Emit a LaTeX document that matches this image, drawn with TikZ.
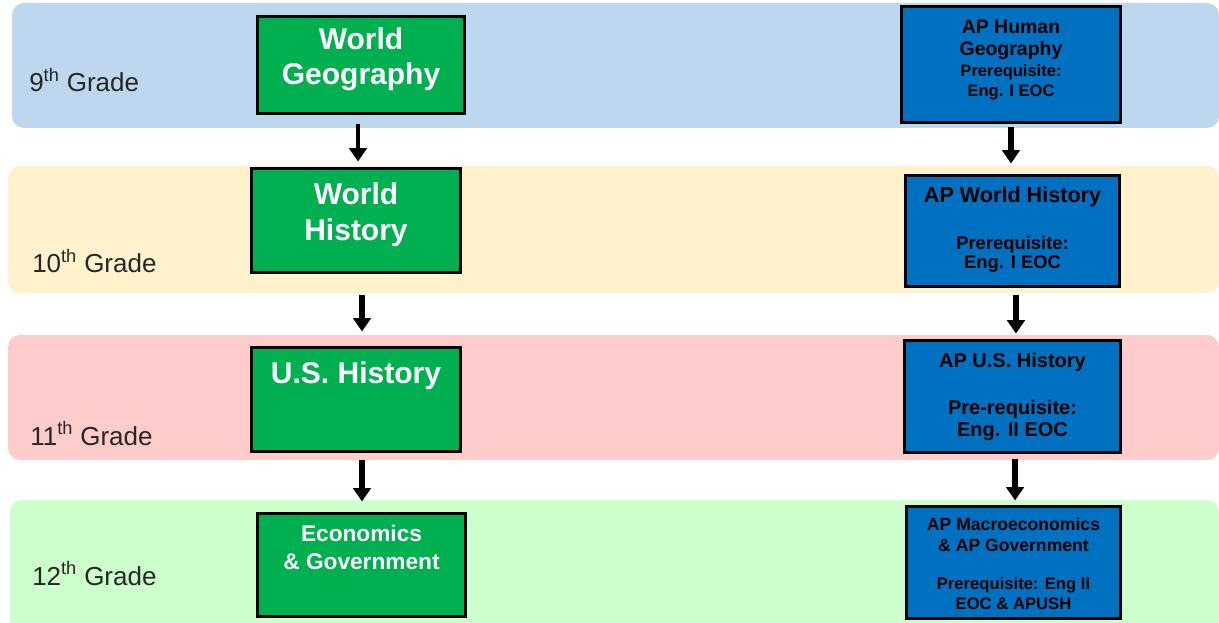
\documentclass[tikz,border=0pt]{standalone}
\usepackage{fontspec}
\setmainfont{Liberation Sans}
\usetikzlibrary{arrows.meta}

\definecolor{band9}{HTML}{BDD7EE}
\definecolor{band10}{HTML}{FFF2CC}
\definecolor{band11}{HTML}{FFCCCC}
\definecolor{band12}{HTML}{CCFFCC}
\definecolor{regfill}{HTML}{00B050}
\definecolor{apfill}{HTML}{0070C0}
\definecolor{gradetext}{HTML}{262626}

% text block of fixed size, written from the top
\newcommand{\coursetext}[3]{\parbox[c][#2][t]{#1}{\centering #3}}

\tikzset{
  regbox/.style={draw=black, line width=2.25pt, fill=regfill, text=white,
    font=\bfseries, inner sep=0pt},
  apbox/.style={draw=black, line width=2.25pt, fill=apfill, text=black,
    font=\bfseries, inner sep=0pt},
  grade/.style={anchor=base west, inner sep=0pt, text=gradetext,
    font=\fontsize{19.5}{22}\selectfont},
  arr/.style={line width=4pt, -{Triangle[width=13pt,length=10pt]}}
}

\begin{document}
\begin{tikzpicture}[x=0.75pt,y=-0.75pt]
\useasboundingbox (0,0) rectangle (1219,623);

% grade bands
\fill[band9,rounded corners=9pt] (12,3) rectangle (1219,128);
\fill[band10,rounded corners=9pt] (8,166) rectangle (1219,293);
\fill[band11,rounded corners=9pt] (8,335) rectangle (1219,460);
\fill[band12,rounded corners=9pt] (10,500) rectangle (1219,640);

\node[grade] (g9) at (29,92) {9\textsuperscript{th} Grade};
\node[grade] (g10) at (32,273) {10\textsuperscript{th} Grade};
\node[grade] (g11) at (30,445) {11\textsuperscript{th} Grade};
\node[grade] (g12) at (32,585) {12\textsuperscript{th} Grade};

% regular courses
\node[regbox] (wg) at (361,65) {\coursetext{155.25pt}{72.75pt}{\vspace*{8.6pt}%
  \fontsize{22.5}{26.25}\selectfont World\\Geography}};
\node[regbox] (wh) at (356,220.5) {\coursetext{156.75pt}{78pt}{\vspace*{10.9pt}%
  \fontsize{22.5}{27}\selectfont World\\History}};
\node[regbox] (ush) at (356,399.5) {\coursetext{156.75pt}{78pt}{\vspace*{10.9pt}%
  \fontsize{22.5}{27}\selectfont U.S. History}};
\node[regbox] (eg) at (361.5,565) {\coursetext{156pt}{77.25pt}{\vspace*{8.6pt}%
  \fontsize{17}{21}\selectfont Economics\\\& Government}};

% AP courses
\node[apbox] (aphg) at (1011,64.5) {\coursetext{164.25pt}{87pt}{\vspace*{10pt}%
  {\fontsize{14.6}{16.5}\selectfont AP Human\\Geography\par}\vspace{0.75pt}%
  {\fontsize{12.4}{15}\selectfont Prerequisite:\\Eng. I EOC\par}}};
\node[apbox] (apwh) at (1012.5,231) {\coursetext{160.5pt}{83.25pt}{\vspace*{8.6pt}%
  {\fontsize{16.2}{19}\selectfont AP World History\par}\vspace{21pt}%
  {\fontsize{13.8}{14.25}\selectfont Prerequisite:\\Eng. I EOC\par}}};
\node[apbox] (apush) at (1012.5,396.5) {\coursetext{162pt}{84pt}{\vspace*{9.4pt}%
  {\fontsize{15}{16.5}\selectfont AP U.S. History\par}\vspace{18.75pt}%
  {\fontsize{15}{16.5}\selectfont Pre-requisite:\\Eng. II EOC\par}}};
\node[apbox] (apmac) at (1013.5,562.5) {\coursetext{160.5pt}{84pt}{\vspace*{8.6pt}%
  {\fontsize{13.2}{15.75}\selectfont AP Macroeconomics\\\& AP Government\par}\vspace{13.9pt}%
  {\fontsize{12.5}{14.6}\selectfont Prerequisite: Eng II\\EOC \& APUSH\par}}};

% sequence arrows
\draw[arr,line width=3pt,shorten <=6.4pt,shorten >=4.1pt]
  ([xshift=-2.25pt]wg.south) -- ([xshift=-2.25pt]wg.south |- wh.north);
\draw[arr,shorten <=15.4pt,shorten >=10.9pt]
  ([xshift=4.5pt]wh.south) -- ([xshift=4.5pt]wh.south |- ush.north);
\draw[arr,shorten <=4.9pt,shorten >=7.9pt]
  ([xshift=4.5pt]ush.south) -- ([xshift=4.5pt]ush.south |- eg.north);

\draw[arr,shorten <=2.6pt,shorten >=7.9pt]
  (aphg.south) -- (aphg.south |- apwh.north);
\draw[arr,shorten <=4.9pt,shorten >=4.1pt]
  ([xshift=2.6pt]apwh.south) -- ([xshift=2.6pt]apwh.south |- apush.north);
\draw[arr,shorten <=4.1pt,shorten >=3.4pt]
  ([xshift=1.9pt]apush.south) -- ([xshift=1.9pt]apush.south |- apmac.north);
\end{tikzpicture}
\end{document}
